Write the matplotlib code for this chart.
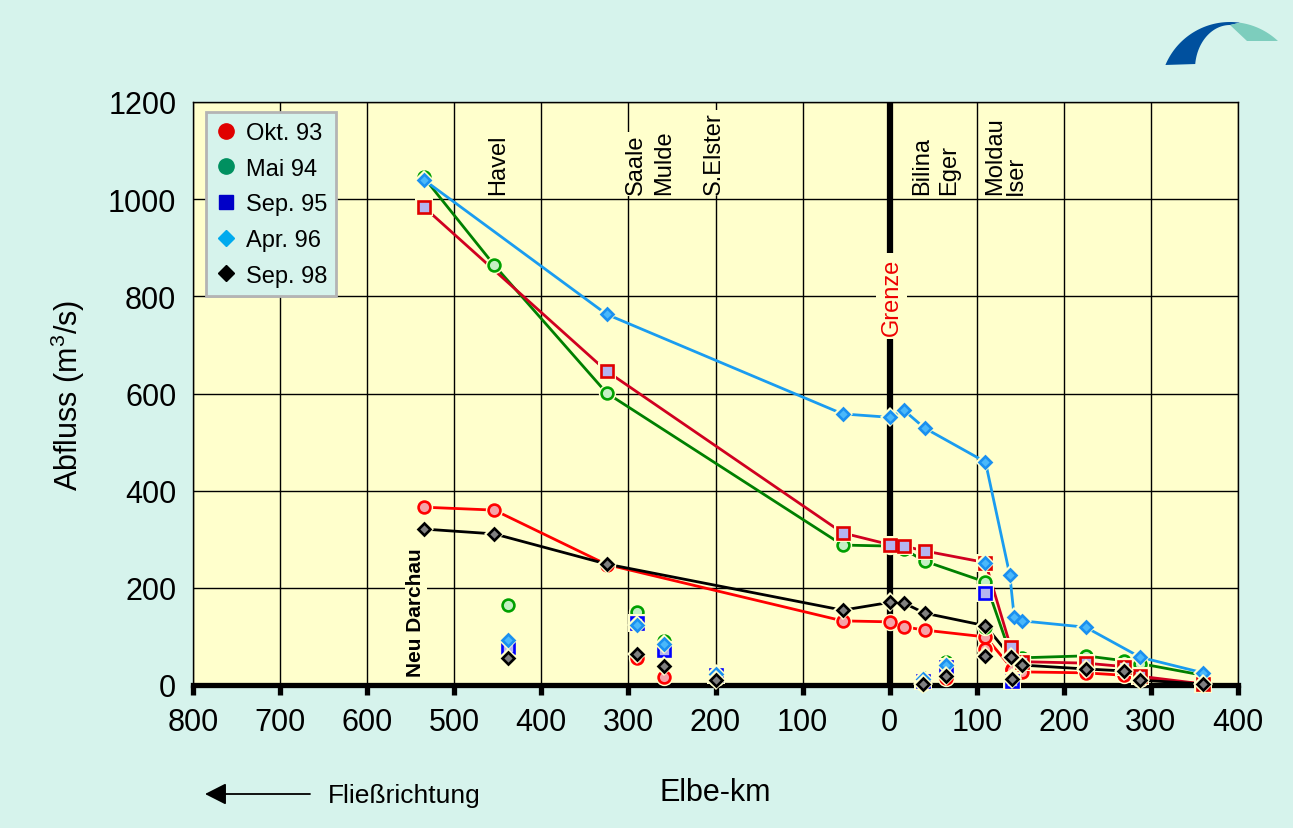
import numpy as np
import matplotlib.pyplot as plt
from matplotlib.lines import Line2D

plt.rcParams['font.family'] = ['Liberation Sans', 'DejaVu Sans']
plt.rcParams['mathtext.default'] = 'regular'

# Elbe-km: negative = German section (km counted from the border), positive = Czech section
okt93_km = [-535, -454, -325, -54, 0, 16, 40, 110, 141, 152, 225, 269, 288, 360]
okt93_q = [366, 360, 248, 132, 130, 120, 113, 99, 33, 27, 25, 20, 12, 2]

mai94_km = [-535, -454, -325, -54, 0, 16, 40, 110, 139, 152, 225, 269, 288, 360]
mai94_q = [1045, 864, 601, 288, 286, 280, 255, 212, 62, 56, 60, 50, 44, 20]

sep95_km = [-535, -325, -54, 0, 16, 40, 110, 139, 152, 225, 269, 288, 360]
sep95_q = [984, 646, 313, 289, 286, 276, 252, 78, 48, 45, 38, 18, 2]

apr96_km = [-535, -325, -54, 0, 16, 40, 110, 138, 143, 152, 225, 288, 360]
apr96_q = [1040, 763, 558, 551, 566, 529, 459, 226, 140, 132, 119, 57, 25]

sep98_km = [-535, -454, -325, -54, 0, 16, 40, 110, 139, 152, 225, 269, 288, 360]
sep98_q = [321, 311, 249, 154, 170, 169, 148, 122, 58, 41, 33, 29, 10, 2]

# tributaries (single points, not connected)
trib_km = [-438, -290, -259, -200, 38, 65, 110, 140]
okt93_trib = [75, 55, 17, 15, 5, 15, 74, 30]
mai94_trib = [165, 150, 90, 25, 15, 47, 119, 15]
sep95_trib = [78, 128, 73, 20, 8, 37, 190, 8]
apr96_trib = [93, 123, 84, 22, 12, 41, 251, 15]
sep98_trib = [55, 63, 39, 10, 3, 18, 60, 12]

trib_names = ['Havel', 'Saale', 'Mulde', 'S.Elster', 'Bilina', 'Eger', 'Moldau', 'Iser']
trib_label_km = [-450, -291, -259, -202, 37, 68, 121, 145]

legend_labels = ['Okt. 93', 'Mai 94', 'Sep. 95', 'Apr. 96', 'Sep. 98']

bg = '#d6f3ec'
plot_bg = '#ffffcc'
W, H = 1293, 829

fig = plt.figure(figsize=(W / 100, H / 100), dpi=100, facecolor=bg)
ax = fig.add_axes([193 / W, 1 - 686 / H, (1238 - 193) / W, (686 - 103) / H])
ax.set_facecolor(plot_bg)
ax.set_xlim(-800, 400)
ax.set_ylim(0, 1200)

xt = np.arange(-800, 401, 100)
ax.set_xticks(xt)
ax.set_xticklabels([str(abs(v)) for v in xt])
ax.set_yticks(np.arange(0, 1201, 200))
ax.grid(True, color='black', lw=1.0)
ax.set_axisbelow(True)
for s in ['top', 'right', 'left']:
    ax.spines[s].set_linewidth(1.0)
ax.spines['bottom'].set_linewidth(3.8)
ax.tick_params(axis='x', length=7, width=3.8, pad=9, labelsize=22, direction='out')
ax.tick_params(axis='y', length=0, pad=12, labelsize=22)

# border line
ax.axvline(0, color='black', lw=4.5, zorder=1.5)
ax.text(2, 800, 'Grenze', rotation=90, color='#ee0000', fontsize=17,
        ha='center', va='center', zorder=1.8,
        bbox=dict(fc=plot_bg, ec='none', pad=3))

for name, km in zip(trib_names, trib_label_km):
    ax.text(km, 1010, name, rotation=90, fontsize=17, ha='center', va='bottom',
            zorder=1.8, bbox=dict(fc=plot_bg, ec='none', pad=1))
ax.text(-544, 18, 'Neu Darchau', rotation=90, fontsize=15, fontweight='bold',
        ha='center', va='bottom', zorder=1.8, bbox=dict(fc=plot_bg, ec='none', pad=1))

series = [
    (okt93_km, okt93_q, okt93_trib, 'o', 8.5, '#ff0000', '#f5a3a8', '#ff0000', '#ff0000'),
    (mai94_km, mai94_q, mai94_trib, 'o', 8.5, '#008000', '#c4f0c4', '#00a000', '#00a000'),
    (sep95_km, sep95_q, sep95_trib, 's', 8.5, '#d00020', '#b4b4f0', '#e00000', '#0000ff'),
    (apr96_km, apr96_q, apr96_trib, 'D', 6.4, '#1a9cf0', '#4ab8fa', '#1a90f0', '#1a90f0'),
    (sep98_km, sep98_q, sep98_trib, 'D', 6.4, '#000000', '#808080', '#000000', '#000000'),
]

for km, q, trib, m, ms, lc, fc, ec, ec_trib in series:
    ax.plot(km, q, color=lc, lw=2.0, zorder=2)

for i, (km, q, trib, m, ms, lc, fc, ec, ec_trib) in enumerate(series):
    z = 3 + 2 * i
    for xs, ys, e in [(km, q, ec), (trib_km, trib, ec_trib)]:
        ax.plot(xs, ys, ls='none', marker=m, ms=ms + 4, mfc=plot_bg, mec=plot_bg,
                mew=0, zorder=z, clip_on=False)
        ax.plot(xs, ys, ls='none', marker=m, ms=ms, mfc=fc, mec=e, mew=1.9,
                zorder=z + 1, clip_on=False)

# legend
leg_cols = ['#e00000', '#009060', '#0000c8', '#00aaee', '#000000']
leg_marks = ['o', 'o', 's', 'D', 'D']
leg_ms = [11, 11, 10, 8.5, 8.5]
handles = [Line2D([], [], ls='none', marker=mk, ms=s, mfc=c, mec=c)
           for mk, s, c in zip(leg_marks, leg_ms, leg_cols)]
leg = ax.legend(handles, legend_labels, loc='upper left',
                bbox_to_anchor=(0.012, 0.982), fontsize=17, frameon=True,
                fancybox=False, framealpha=1, facecolor=bg, edgecolor='#b4b4b4',
                handlelength=0.9, handletextpad=0.4, labelspacing=0.58,
                borderpad=0.4, borderaxespad=0)
leg.get_frame().set_linewidth(2)
leg.set_zorder(20)

# axis titles
fig.text(715 / W, 1 - 793 / H, 'Elbe-km', ha='center', va='center', fontsize=22)
fig.text(68 / W, 1 - 395 / H, 'Abfluss (m$^3$/s)', rotation=90, ha='center',
         va='center', fontsize=22)

# flow direction
ax.annotate('', xy=(205, H - 795), xycoords='figure pixels',
            xytext=(310, H - 795), textcoords='figure pixels',
            arrowprops=dict(arrowstyle='-|>,head_length=0.65,head_width=0.33',
                            color='black', lw=1.3, mutation_scale=20,
                            shrinkA=0, shrinkB=0))
fig.text(328 / W, 1 - 796 / H, 'Fließrichtung', ha='left', va='center', fontsize=19)

# logo (arch)
lg = fig.add_axes([0, 0, 1, 1], zorder=-1)
lg.set_xlim(0, W)
lg.set_ylim(H, 0)
lg.axis('off')
ox, oy, orad = 1230, 93, 70
ix, iy, irx, iry = 1230, 70, 35, 44
t_out = np.radians(np.linspace(157.3, 81.8, 60))
t_in = np.radians(np.linspace(90, 173.5, 60))
blue_x = np.concatenate([ox + orad * np.cos(t_out), ix + irx * np.cos(t_in)])
blue_y = np.concatenate([oy - orad * np.sin(t_out), iy - iry * np.sin(t_in)])
lg.fill(blue_x, blue_y, color='#00509e', lw=0)
t_out2 = np.radians(np.linspace(81.8, 46.8, 40))
teal_x = np.concatenate([ox + orad * np.cos(t_out2), [1247, 1230]])
teal_y = np.concatenate([oy - orad * np.sin(t_out2), [42, 26]])
lg.fill(teal_x, teal_y, color='#7dcdbd', lw=0)

fig.savefig('out.png', dpi=100, facecolor=bg)
